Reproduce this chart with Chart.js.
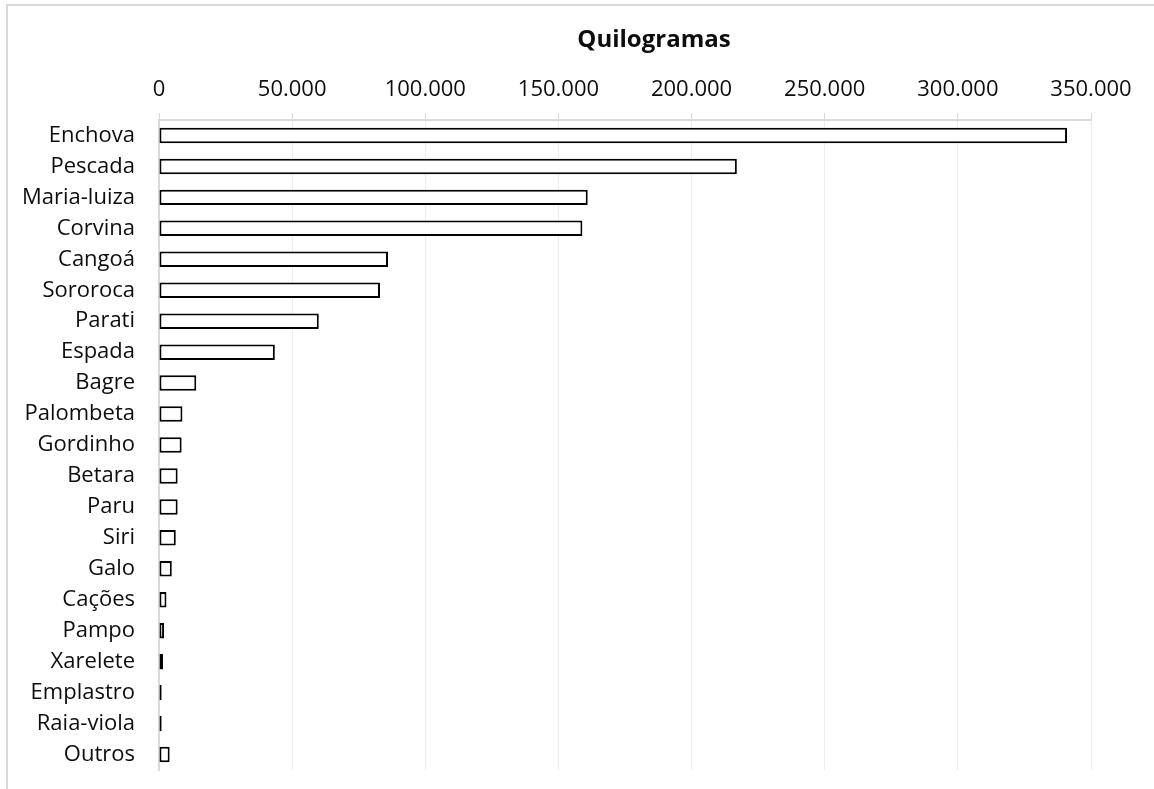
<!DOCTYPE html>
<html>
<head>
<meta charset="utf-8">
<script src="https://cdn.jsdelivr.net/npm/chart.js@4/dist/chart.umd.min.js"></script>
<style>
  html, body { margin: 0; padding: 0; background: #fff; }
  #wrap { position: relative; width: 1154px; height: 789px; overflow: hidden; }
  #frame { position: absolute; left: 6px; top: 4px; width: 1300px; height: 900px; border: 2px solid #d9d9d9; box-sizing: border-box; }
  canvas { position: absolute; left: 0; top: 0; }
</style>
</head>
<body>
<div id="wrap">
  <div id="frame"></div>
  <canvas id="c" width="1154" height="789"></canvas>
</div>
<script>
const chartTitle = 'Quilogramas';
const categories = ['Enchova','Pescada','Maria-luiza','Corvina','Cangoá','Sororoca','Parati','Espada','Bagre','Palombeta','Gordinho','Betara','Paru','Siri','Galo','Cações','Pampo','Xarelete','Emplastro','Raia-viola','Outros'];
const kilograms = [341000,217000,161000,159000,86000,83000,60000,43500,14000,8800,8500,7000,7000,6300,4800,2800,1900,1500,1000,1000,4000];
const xTickValues = [0,50000,100000,150000,200000,250000,300000,350000];

function fmtThousands(v) {
  return String(Math.round(v)).replace(/\B(?=(\d{3})+(?!\d))/g, '.');
}

const FONT = '"Open Sans", sans-serif';
const TEXT = '#0d0d0d';

const titlePlugin = {
  id: 'xlTitle',
  afterDraw(chart) {
    const ctx = chart.ctx;
    ctx.save();
    ctx.font = 'bold 24px ' + FONT;
    ctx.fillStyle = TEXT;
    ctx.textAlign = 'center';
    ctx.textBaseline = 'alphabetic';
    ctx.fillText(chartTitle, 654, 47);
    ctx.restore();
  }
};

new Chart(document.getElementById('c'), {
  type: 'bar',
  data: {
    labels: categories,
    datasets: [{
      label: chartTitle,
      data: kilograms,
      backgroundColor: '#ffffff',
      borderColor: '#000000',
      borderWidth: 2,
      borderSkipped: false,
      barPercentage: 1,
      categoryPercentage: 0.5
    }]
  },
  options: {
    indexAxis: 'y',
    responsive: false,
    animation: false,
    layout: { padding: { left: 0, top: 0, right: 63, bottom: 19 } },
    plugins: {
      legend: { display: false },
      title: { display: false },
      tooltip: { enabled: false }
    },
    scales: {
      x: {
        position: 'top',
        min: 0,
        max: 350000,
        afterBuildTicks(scale) { scale.ticks = xTickValues.map(v => ({ value: v })); },
        afterFit(scale) { scale.height = 120; },
        grid: { color: '#ececec', lineWidth: 1, drawTicks: true, tickLength: 7, tickColor: '#d9d9d9' },
        border: { display: true, color: '#d9d9d9', width: 2 },
        ticks: {
          padding: 10,
          color: TEXT,
          font: { family: FONT, size: 22 },
          callback: (v) => fmtThousands(v),
          maxRotation: 0,
          autoSkip: false
        }
      },
      y: {
        afterFit(scale) { scale.width = 159; scale.paddingTop = 0; scale.paddingBottom = 0; },
        grid: { display: false, drawTicks: false },
        border: { display: true, color: '#d9d9d9', width: 2 },
        ticks: {
          padding: 24,
          color: TEXT,
          font: { family: FONT, size: 22 },
          autoSkip: false
        }
      }
    }
  },
  plugins: [titlePlugin]
});
</script>
</body>
</html>
